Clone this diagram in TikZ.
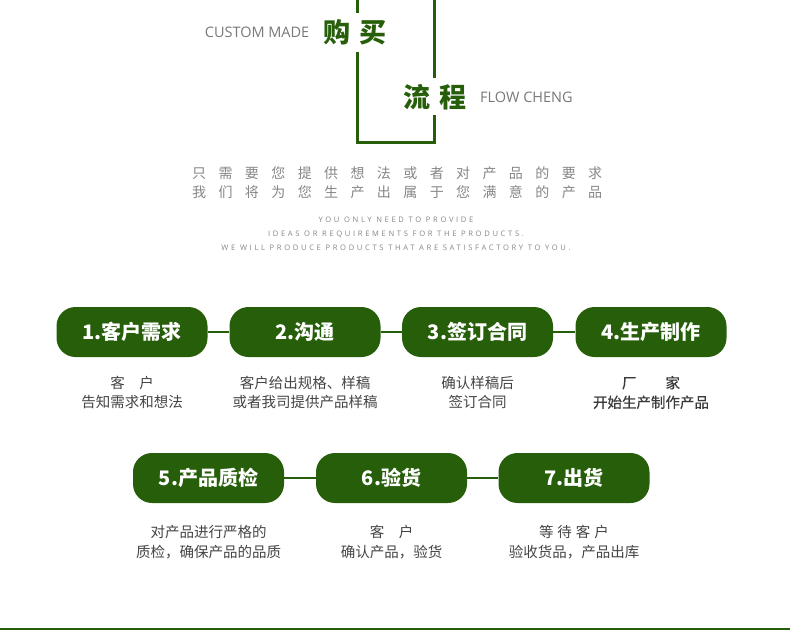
\documentclass[tikz,border=0pt]{standalone}
\usepackage{fontspec}
\newfontfamily\cjk{Noto Sans CJK SC}
\newfontfamily\cjkmed[FakeBold=0.6]{Noto Sans CJK SC}
\newfontfamily\en{Open Sans}
\newfontfamily\ensp[LetterSpace=35]{Open Sans}
\newcommand\zhgap{\spaceskip=12.4pt\relax}
\definecolor{gr}{RGB}{38,94,10}
\definecolor{txtgray}{RGB}{120,120,120}
\definecolor{desc}{RGB}{68,68,68}
\begin{document}
\begin{tikzpicture}[x=1pt,y=-1pt,
  frame/.style={draw=gr,line width=3pt},
  stepbox/.style={fill=gr,rounded corners=19pt,minimum width=151pt,minimum height=50pt,inner sep=0pt,text=white,font=\cjk\bfseries\fontsize{20}{24}\selectfont},
  link/.style={draw=gr,line width=2.5pt},
  desc/.style={align=center,text=desc,font=\cjk\fontsize{14.5}{19.5}\selectfont,inner sep=0pt},
  big/.style={text=gr,font=\cjk\bfseries\fontsize{27}{30}\selectfont,inner sep=0pt},
  eng/.style={text=txtgray,font=\en\fontsize{14.5}{16}\selectfont,inner sep=0pt},
  small/.style={text=txtgray!90,font=\ensp\fontsize{7.6}{9}\selectfont,inner sep=0pt},
  zh/.style={text=txtgray!90,font=\cjk\fontsize{14}{16}\selectfont\zhgap,inner sep=0pt}]
\useasboundingbox (0,0) rectangle (790,630);
% frame
\coordinate (l0) at (357,0);
\coordinate (l1) at (357,13);
\coordinate (l2) at (357,52);
\coordinate (bl) at (357,142);
\coordinate (br) at (434,142);
\coordinate (r2) at (434,115);
\coordinate (r1) at (434,78);
\coordinate (r0) at (434,0);
\draw[frame] (l0) -- (l1);
\draw[frame] (l2) -- (bl) -- (br) -- (r2);
\draw[frame] (r1) -- (r0);
\node[big] (buy) at (355,32) {购\hspace{10pt}买};
\node[big] (flow) at (435,97) {流\hspace{10pt}程};
\node[eng,anchor=east] (custom) at (309.5,32.5) {CUSTOM MADE};
\node[eng,anchor=west] (flowen) at (480,97.5) {FLOW CHENG};
% intro
\node[zh,anchor=west] (zh1) at (192,173) {只 需 要 您 提 供 想 法 或 者 对 产 品 的 要 求};
\node[zh,anchor=west] (zh2) at (192,192) {我 们 将 为 您 生 产 出 属 于 您 满 意 的 产 品};
\node[small] (en1) at (396,220) {YOU ONLY NEED TO PROVIDE};
\node[small] (en2) at (396,234) {IDEAS OR REQUIREMENTS FOR THE PRODUCTS.};
\node[small] (en3) at (396,248) {WE WILL PRODUCE PRODUCTS THAT ARE SATISFACTORY TO YOU.};
% row 1
\node[stepbox] (s1) at (132,332) {1.客户需求};
\node[stepbox] (s2) at (305,332) {2.沟通};
\node[stepbox] (s3) at (477.5,332) {3.签订合同};
\node[stepbox] (s4) at (651,332) {4.生产制作};
\draw[link] (s1) -- (s2);
\draw[link] (s2) -- (s3);
\draw[link] (s3) -- (s4);
\node[desc] (d1) at (132,392.5) {客　户\\告知需求和想法};
\node[desc] (d2) at (305,392.5) {客户给出规格、样稿\\或者我司提供产品样稿};
\node[desc] (d3) at (477.5,392.5) {确认样稿后\\签订合同};
\node[desc,font=\cjkmed\fontsize{14.5}{19.5}\selectfont,text=desc!85!black] (d4) at (651,392.5) {厂　　家\\开始生产制作产品};
% row 2
\node[stepbox] (s5) at (208.5,478) {5.产品质检};
\node[stepbox] (s6) at (391.5,478) {6.验货};
\node[stepbox] (s7) at (574,478) {7.出货};
\draw[link] (s5) -- (s6);
\draw[link] (s6) -- (s7);
\node[desc] (d5) at (208.5,542) {对产品进行严格的\\质检，确保产品的品质};
\node[desc] (d6) at (391.5,542) {客　户\\确认产品，验货};
\node[desc] (d7) at (574,542) {等\hspace{4pt}待\hspace{4pt}客\hspace{4pt}户\\验收货品，产品出库};
% bottom line
\coordinate (bot0) at (0,629.2);
\coordinate (bot1) at (790,629.2);
\draw[draw=gr,line width=1.6pt] (bot0) -- (bot1);
\end{tikzpicture}
\end{document}
